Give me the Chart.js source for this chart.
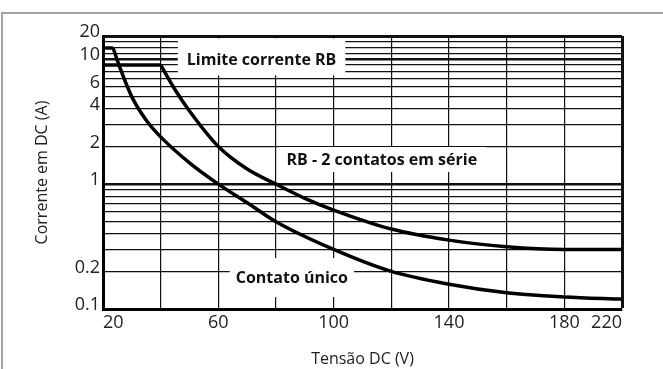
<!DOCTYPE html>
<html lang="pt">
<head>
<meta charset="UTF-8">
<title>Corrente DC x Tensão DC</title>
<script src="https://cdn.jsdelivr.net/npm/chart.js@4/dist/chart.umd.min.js"></script>
<style>
  html, body { margin: 0; padding: 0; background: #fff; }
  #moldura { position: absolute; left: 1px; top: 12px; width: 700px; height: 400px;
             border-top: 2px solid #a3a3a3; border-left: 2px solid #a3a3a3; }
  #grafico { position: absolute; left: 0; top: 0; }
</style>
</head>
<body>
<div id="moldura"></div>
<canvas id="grafico" width="663" height="369"></canvas>

<script>
  // valores: tensão DC (V) e corrente (A)
  const tensaoUnico   = [20, 23.5, 26, 30, 35, 40, 50, 60, 70, 80, 100, 120, 140, 160, 180, 220];
  const correnteUnico = [14, 14, 8.4, 5.0, 3.25, 2.39, 1.48, 1.0, 0.71, 0.5, 0.30, 0.2, 0.158, 0.135, 0.125, 0.12];

  const tensaoRB   = [20, 40, 45, 50, 60, 70, 80, 90, 100, 120, 140, 160, 180, 220];
  const correnteRB = [9, 9, 5.7, 3.85, 2.0, 1.32, 1.0, 0.77, 0.62, 0.437, 0.356, 0.315, 0.30, 0.30];

  // eixos
  const tensoesGrade  = [20, 40, 60, 80, 100, 120, 140, 160, 180, 220];
  const tensoesRotulo = [20, 60, 100, 140, 180, 220];
  const correntesGrade = [0.1, 0.2, 0.3, 0.4, 0.5, 0.6, 0.7, 0.8, 0.9,
                          1, 2, 3, 4, 5, 6, 7, 8, 9, 10, 12, 14, 17, 20];
  const correntesRotulo = [0.1, 0.2, 1, 2, 4, 6, 10, 20];

  // textos dentro do gráfico
  const rotulos        = ['Limite corrente RB', 'RB - 2 contatos em série', 'Contato único'];
  const rotuloTensao   = [75, 116.7, 85.5];
  const rotuloCorrente = [9.8, 1.56, 0.177];

  // eixo X: cada divisão da grade tem a mesma largura
  function xPos(v) {
    for (let i = 0; i < tensoesGrade.length - 1; i++) {
      const a = tensoesGrade[i], b = tensoesGrade[i + 1];
      if (v <= b) return i + (v - a) / (b - a);
    }
    return tensoesGrade.length - 1;
  }
  // eixo Y: log até 10 A, acima disso a década é comprimida
  const escalaTopo = 0.1864;
  function yPos(a) {
    return a <= 10 ? Math.log10(a) : 1 + Math.log2(a / 10) * escalaTopo;
  }

  function pontos(ts, cs, de, ate) {
    const out = [];
    for (let i = de; i < ate; i++) out.push({ x: xPos(ts[i]), y: yPos(cs[i]) });
    return out;
  }

  const estiloCurva = { borderColor: '#000', borderWidth: 3.5, pointRadius: 0, fill: false };

  const caixas = {
    id: 'caixas',
    beforeDatasetsDraw(chart) {
      const c = chart.ctx, sx = chart.scales.x, sy = chart.scales.y;
      // folgas da caixa branca: [esq/dir, cima, baixo]
      const folgas = [[9, 22, 15], [9, 13, 12], [6, 20, 19]];
      c.save();
      c.font = 'bold 16px "Open Sans"';
      c.textAlign = 'center';
      c.textBaseline = 'middle';
      rotulos.forEach((t, i) => {
        const cx = sx.getPixelForValue(xPos(rotuloTensao[i]));
        const cy = sy.getPixelForValue(yPos(rotuloCorrente[i]));
        const w = c.measureText(t).width;
        const f = folgas[i];
        c.fillStyle = '#fff';
        c.fillRect(cx - w / 2 - f[0], cy - f[1], w + 2 * f[0], f[1] + f[2]);
        c.fillStyle = '#111';
        c.fillText(t, cx, cy);
      });
      c.restore();
    }
  };

  new Chart(document.getElementById('grafico'), {
    type: 'line',
    data: {
      datasets: [
        { ...estiloCurva, data: pontos(tensaoUnico, correnteUnico, 0, 2), tension: 0 },
        { ...estiloCurva, data: pontos(tensaoUnico, correnteUnico, 1, tensaoUnico.length), cubicInterpolationMode: 'monotone' },
        { ...estiloCurva, data: pontos(tensaoRB, correnteRB, 0, 2), tension: 0 },
        { ...estiloCurva, data: pontos(tensaoRB, correnteRB, 1, tensaoRB.length), cubicInterpolationMode: 'monotone' }
      ]
    },
    options: {
      responsive: false,
      animation: false,
      layout: { padding: { top: 36, right: 41, left: 0, bottom: 0 } },
      plugins: { legend: { display: false }, tooltip: { enabled: false } },
      scales: {
        x: {
          type: 'linear',
          min: 0,
          max: tensoesGrade.length - 1,
          afterFit: s => { s.height = 60; },
          afterBuildTicks: s => { s.ticks = tensoesGrade.map((v, i) => ({ value: i })); },
          border: { display: true, width: 3, color: '#000' },
          grid: {
            color: '#111',
            drawTicks: false,
            lineWidth: ctx => (ctx.tick && ctx.tick.value === tensoesGrade.length - 1) ? 3 : 1.2
          },
          ticks: {
            autoSkip: false,
            maxRotation: 0,
            align: 'inner',
            padding: 3,
            color: '#222',
            font: { family: '"Open Sans"', size: 18 },
            callback: (v, i) => tensoesRotulo.includes(tensoesGrade[i]) ? String(tensoesGrade[i]) : ''
          },
          title: {
            display: true,
            text: 'Tensão DC (V)',
            color: '#222',
            font: { family: '"Open Sans"', size: 16 },
            padding: { top: 0, bottom: 0 }
          }
        },
        y: {
          type: 'linear',
          min: yPos(0.1),
          max: yPos(20),
          afterFit: s => { s.width = 103; },
          afterBuildTicks: s => { s.ticks = correntesGrade.map(a => ({ value: yPos(a) })); },
          border: { display: true, width: 3, color: '#000' },
          grid: {
            color: '#111',
            drawTicks: false,
            lineWidth: ctx => {
              if (!ctx.tick) return 1.2;
              const v = ctx.tick.value;
              if (v === yPos(20)) return 3;
              if (v === yPos(1) || v === yPos(10)) return 2.4;
              return 1.2;
            }
          },
          ticks: {
            autoSkip: false,
            padding: 3,
            labelOffset: -4,
            color: '#222',
            font: { family: '"Open Sans"', size: 18 },
            callback: (v, i) => correntesRotulo.includes(correntesGrade[i]) ? String(correntesGrade[i]) : ''
          },
          title: {
            display: true,
            text: 'Corrente em DC (A)',
            color: '#222',
            font: { family: '"Open Sans"', size: 16 },
            padding: { top: 33, bottom: 0 }
          }
        }
      }
    },
    plugins: [caixas]
  });
</script>
</body>
</html>
